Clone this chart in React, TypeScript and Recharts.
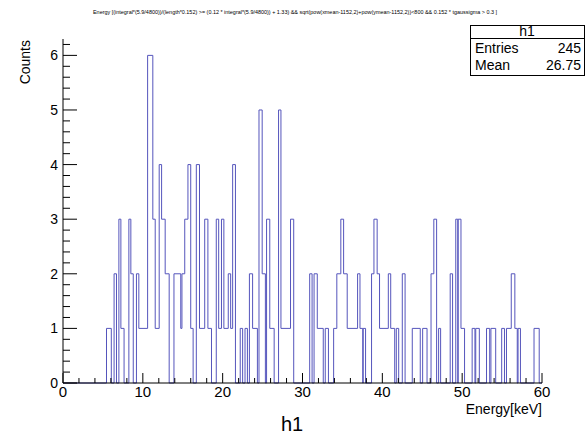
import React from "react"
import { LineChart, Line, XAxis, YAxis } from "recharts"

// histogram h1, step edges in keV and the count in each step
const binLow = [
	0, 5.45, 6.05, 6.4, 6.7, 7.0, 7.25, 7.65, 8.25, 8.5, 8.8, 9.2, 9.5, 10.6,
	11.25, 11.55, 12.05, 12.35, 12.8, 13.3, 13.9, 14.75, 14.9, 15.25, 15.65,
	16.0, 16.3, 16.7, 17.1, 17.75, 18.15, 18.6, 19.2, 19.5, 19.85, 20.15, 20.7,
	21.0, 21.25, 21.6, 22.2, 22.5, 22.8, 23.1, 23.35, 23.75, 24.35, 24.55,
	24.95, 25.35, 25.5, 25.9, 26.45, 27.0, 27.3, 28.5, 28.9, 30.9, 31.2, 31.45,
	31.85, 32.6, 32.85, 33.25, 33.9, 34.3, 34.8, 35.15, 35.6, 36.9, 37.2,
	37.55, 37.6, 37.9, 38.65, 38.95, 39.35, 39.65, 40.75, 41.05, 41.55, 41.75,
	42.05, 42.5, 42.85, 43.75, 44.75, 45.05, 45.6, 46.1, 46.45, 46.8, 47.05,
	47.3, 48.5, 48.8, 49.2, 49.45, 49.5, 49.85, 50.3, 51.25, 51.6, 51.7, 52.15,
	53.05, 53.45, 53.6, 54.2, 54.95, 55.3, 55.55, 56.15, 56.6, 56.9, 57.0,
	57.3, 59.0, 59.65, 60,
]
const counts = [
	0, 1, 0, 2, 0, 3, 1, 0, 3, 2, 0, 2, 1, 6,
	3, 1, 4, 3, 2, 0, 2, 1, 2, 3, 4,
	1, 0, 4, 1, 3, 1, 0, 3, 1, 3, 1, 2,
	1, 4, 0, 1, 0, 1, 0, 2, 1, 0, 5,
	2, 0, 3, 1, 0, 5, 1, 3, 0, 2, 0, 2,
	1, 0, 1, 0, 1, 2, 3, 2, 1, 2, 1,
	0, 1, 0, 2, 3, 2, 1, 2, 1, 0, 1,
	0, 2, 0, 1, 0, 1, 0, 2, 3, 0, 1,
	0, 2, 0, 3, 0, 3, 1, 0, 1, 0, 1, 0,
	1, 0, 1, 0, 1, 0, 1, 2, 1, 0, 1,
	0, 1, 0, 0,
]

const xLabels = [0, 10, 20, 30, 40, 50, 60]
const yLabels = [0, 1, 2, 3, 4, 5, 6]
const statNames = ["Entries", "Mean"]
const statValues = ["245", "26.75"]

const title =
	"Energy [(integral*(5.9/4800))/(length*0.152) >= (0.12 * integral*(5.9/4800)) + 1.33) && sqrt(pow(xmean-1152,2)+pow(ymean-1152,2))<800 && 0.152 * tgaussigma > 0.3 ]"

const data = binLow.map((x, i) => ({ x, count: counts[i] }))

// minor ticks every 2 keV on x, every 0.2 on y
const xTicks = Array.from({ length: 31 }, (_, i) => i * 2)
const yTicks = Array.from({ length: 32 }, (_, i) => Math.round(i * 2) / 10)

const font = "'Liberation Sans', Arial, Helvetica, sans-serif"
const lineColor = "#5555bc"

const isMajor = (v: number, step: number) =>
	Math.abs(v / step - Math.round(v / step)) < 1e-6

const XTick = (props: any) => {
	const { x, y, payload } = props
	const v = payload.value
	const major = isMajor(v, 10)
	return (
		<g>
			<line x1={x} x2={x} y1={y} y2={y - (major ? 10 : 5)} stroke="#000" />
			{major && xLabels.includes(v) && (
				<text x={x} y={y + 14} textAnchor="middle" fontSize={15} fontFamily={font} fill="#000">
					{v}
				</text>
			)}
		</g>
	)
}

const YTick = (props: any) => {
	const { x, y, payload } = props
	const v = payload.value
	const major = isMajor(v, 1)
	return (
		<g>
			<line x1={x} x2={x + (major ? 14 : 7)} y1={y} y2={y} stroke="#000" />
			{major && yLabels.includes(Math.round(v)) && (
				<text x={x - 5} y={y + 5} textAnchor="end" fontSize={14} fontFamily={font} fill="#000">
					{Math.round(v)}
				</text>
			)}
		</g>
	)
}

export default function App() {
	return (
		<div style={{ position: "absolute", left: 0, top: 0, width: 586, height: 435, background: "#fff" }}>
			<LineChart
				width={586}
				height={435}
				data={data}
				margin={{ top: 39, right: 44, bottom: 0, left: 0 }}>
				<XAxis
					dataKey="x"
					type="number"
					domain={[0, 60]}
					ticks={xTicks}
					interval={0}
					tick={<XTick />}
					tickSize={0}
					tickMargin={0}
					height={52}
					axisLine={{ stroke: "#000" }}
				/>
				<XAxis
					xAxisId="top"
					orientation="top"
					type="number"
					domain={[0, 60]}
					height={0}
					tick={false}
					tickLine={false}
					axisLine={{ stroke: "#000" }}
				/>
				<YAxis
					type="number"
					domain={[0, 6.3]}
					ticks={yTicks}
					interval={0}
					tick={<YTick />}
					tickSize={0}
					tickMargin={0}
					width={63}
					axisLine={{ stroke: "#000" }}
				/>
				<YAxis
					yAxisId="right"
					orientation="right"
					type="number"
					domain={[0, 6.3]}
					width={0}
					tick={false}
					tickLine={false}
					axisLine={{ stroke: "#000" }}
				/>
				<Line
					type="stepAfter"
					dataKey="count"
					stroke={lineColor}
					strokeWidth={1}
					dot={false}
					isAnimationActive={false}
				/>
			</LineChart>
			<svg
				width={586}
				height={435}
				style={{ position: "absolute", left: 0, top: 0, pointerEvents: "none" }}>
				<text x={295} y={14} textAnchor="middle" fontSize={5.5} fontFamily={font} textLength={404} lengthAdjust="spacingAndGlyphs">
					{title}
				</text>
				<rect x={470.5} y={25.5} width={114} height={50} fill="#fff" stroke="#000" />
				<line x1={470.5} x2={584.5} y1={38.5} y2={38.5} stroke="#000" />
				<text x={527} y={36} textAnchor="middle" fontSize={14} fontFamily={font}>h1</text>
				{statNames.map((n, i) => (
					<text key={n} x={475} y={53 + i * 17} fontSize={14} fontFamily={font}>{n}</text>
				))}
				{statValues.map((v, i) => (
					<text key={v} x={581} y={53 + i * 17} textAnchor="end" fontSize={14} fontFamily={font}>{v}</text>
				))}
				<text transform="translate(30,40) rotate(-90)" textAnchor="end" fontSize={14} fontFamily={font}>
					Counts
				</text>
				<text x={542} y={414} textAnchor="end" fontSize={14} fontFamily={font}>Energy[keV]</text>
				<text x={292} y={431} textAnchor="middle" fontSize={20} fontFamily={font}>h1</text>
			</svg>
		</div>
	)
}
